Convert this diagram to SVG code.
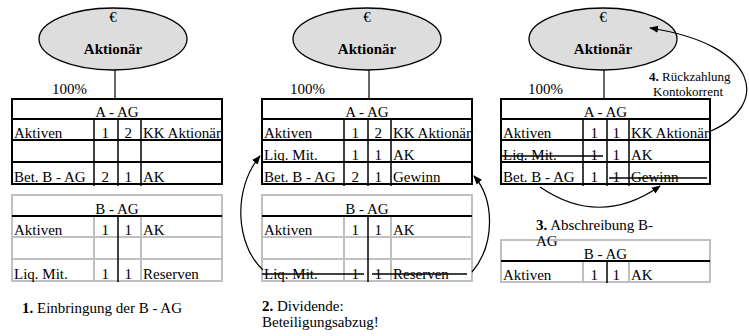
<svg xmlns="http://www.w3.org/2000/svg" width="749" height="336" viewBox="0 0 749 336">
<defs>
<marker id="ah" viewBox="0 0 10 10" refX="9" refY="5" markerWidth="9" markerHeight="9" markerUnits="userSpaceOnUse" orient="auto">
<path d="M0,1 L10,5 L0,9 Z" fill="#000"/>
</marker>
</defs>
<style>
text{font-family:'Liberation Serif','DejaVu Serif',serif;font-size:15px;fill:#000}
.c{text-anchor:middle}
.e{text-anchor:end}
.b{font-weight:bold}
.sm{font-size:13px}
.ell{fill:#dddddd;stroke:#000;stroke-width:1.3}
.blk{stroke:#000;stroke-width:2;fill:none}
.thin{stroke:#000;stroke-width:1.5;fill:none}
.gry{stroke:#c0c0c0;stroke-width:2;fill:none}
.st{stroke:#000;stroke-width:1.3;fill:none}
.arr{stroke:#000;stroke-width:1.2;fill:none;marker-end:url(#ah)}
</style>
<g font-family="Liberation Serif, DejaVu Serif, serif" font-size="15">
<!-- Panel 1 -->
<g id="aktionaer1">
<ellipse class="ell" cx="113" cy="39" rx="74" ry="31"/>
<text class="c" x="113" y="22">€</text>
<text class="c b" x="113" y="54">Aktionär</text>
</g>
<g id="aag1">
<rect class="blk" x="12" y="99" width="210" height="85"/>
<line class="blk" x1="12" y1="119" x2="222" y2="119"/>
<line class="blk" x1="12" y1="140" x2="222" y2="140"/>
<line class="blk" x1="12" y1="162" x2="222" y2="162"/>
<line class="thin" x1="94" y1="119" x2="94" y2="186"/>
<line class="thin" x1="118" y1="119" x2="118" y2="186"/>
<line class="thin" x1="141" y1="119" x2="141" y2="186"/>
<text class="c" x="117" y="117">A - AG</text>
<text x="14" y="138">Aktiven</text><text class="e" x="109" y="138">1</text><text class="e" x="132" y="138">2</text><text x="143" y="138">KK Aktionär</text>
<text x="14" y="182">Bet. B - AG</text><text class="e" x="109" y="182">2</text><text class="e" x="132" y="182">1</text><text x="143" y="182">AK</text>
</g>
<g id="bag1">
<rect class="gry" x="12" y="195" width="210" height="86"/>
<line class="gry" x1="12" y1="237" x2="222" y2="237"/>
<line class="gry" x1="12" y1="259" x2="222" y2="259"/>
<line class="gry" x1="94" y1="216" x2="94" y2="281"/>
<line class="gry" x1="141" y1="216" x2="141" y2="281"/>
<line class="blk" x1="12" y1="216" x2="222" y2="216"/>
<line class="thin" x1="118" y1="216" x2="118" y2="282"/>
<text class="c" x="117" y="214">B - AG</text>
<text x="14" y="235">Aktiven</text><text class="e" x="109" y="235">1</text><text class="e" x="132" y="235">1</text><text x="143" y="235">AK</text>
<text x="14" y="279">Liq. Mit.</text><text class="e" x="109" y="279">1</text><text class="e" x="132" y="279">1</text><text x="143" y="279">Reserven</text>
</g>
<text x="52" y="94">100%</text>
<text x="22" y="313"><tspan class="b">1.</tspan> Einbringung der B - AG</text>

<!-- Panel 2 -->
<g id="aktionaer2">
<ellipse class="ell" cx="367" cy="39" rx="74" ry="31"/>
<text class="c" x="367" y="22">€</text>
<text class="c b" x="367" y="54">Aktionär</text>
</g>
<g id="aag2">
<rect class="blk" x="262" y="99" width="210" height="85"/>
<line class="blk" x1="262" y1="119" x2="472" y2="119"/>
<line class="blk" x1="262" y1="140" x2="472" y2="140"/>
<line class="blk" x1="262" y1="162" x2="472" y2="162"/>
<line class="thin" x1="344" y1="119" x2="344" y2="186"/>
<line class="thin" x1="368" y1="119" x2="368" y2="186"/>
<line class="thin" x1="391" y1="119" x2="391" y2="186"/>
<text class="c" x="367" y="117">A - AG</text>
<text x="264" y="138">Aktiven</text><text class="e" x="359" y="138">1</text><text class="e" x="382" y="138">2</text><text x="393" y="138">KK Aktionär</text>
<text x="264" y="160">Liq. Mit.</text><text class="e" x="359" y="160">1</text><text class="e" x="382" y="160">1</text><text x="393" y="160">AK</text>
<text x="264" y="182">Bet. B - AG</text><text class="e" x="359" y="182">2</text><text class="e" x="382" y="182">1</text><text x="393" y="182">Gewinn</text>
</g>
<g id="bag2">
<rect class="gry" x="262" y="195" width="210" height="86"/>
<line class="gry" x1="262" y1="237" x2="472" y2="237"/>
<line class="gry" x1="262" y1="259" x2="472" y2="259"/>
<line class="gry" x1="344" y1="216" x2="344" y2="281"/>
<line class="gry" x1="391" y1="216" x2="391" y2="281"/>
<line class="blk" x1="262" y1="216" x2="472" y2="216"/>
<line class="thin" x1="368" y1="216" x2="368" y2="282"/>
<text class="c" x="367" y="214">B - AG</text>
<text x="264" y="235">Aktiven</text><text class="e" x="359" y="235">1</text><text class="e" x="382" y="235">1</text><text x="393" y="235">AK</text>
<text x="264" y="279">Liq. Mit.</text><text class="e" x="359" y="279">1</text><text class="e" x="382" y="279">1</text><text x="393" y="279">Reserven</text>
<line class="st" x1="262" y1="274" x2="364" y2="274"/>
<line class="st" x1="372" y1="274" x2="467" y2="274"/>
</g>
<text x="290" y="94">100%</text>
<text x="262" y="311"><tspan class="b">2.</tspan> Dividende:</text>
<text x="262" y="327">Beteiligungsabzug!</text>

<!-- Panel 3 -->
<g id="aktionaer3">
<ellipse class="ell" cx="603" cy="39" rx="74" ry="31"/>
<text class="c" x="603" y="22">€</text>
<text class="c b" x="603" y="54">Aktionär</text>
</g>
<g id="aag3">
<rect class="blk" x="501" y="99" width="209" height="85"/>
<line class="blk" x1="501" y1="119" x2="710" y2="119"/>
<line class="blk" x1="501" y1="140" x2="710" y2="140"/>
<line class="blk" x1="501" y1="162" x2="710" y2="162"/>
<line class="thin" x1="583" y1="119" x2="583" y2="186"/>
<line class="thin" x1="607" y1="119" x2="607" y2="186"/>
<line class="thin" x1="629" y1="119" x2="629" y2="186"/>
<text class="c" x="605.5" y="117">A - AG</text>
<text x="503" y="138">Aktiven</text><text class="e" x="598" y="138">1</text><text class="e" x="620" y="138">1</text><text x="631" y="138">KK Aktionär</text>
<text x="503" y="160">Liq. Mit.</text><text class="e" x="598" y="160">1</text><text class="e" x="620" y="160">1</text><text x="631" y="160">AK</text>
<text x="503" y="182">Bet. B - AG</text><text class="e" x="598" y="182">1</text><text class="e" x="620" y="182">1</text><text x="631" y="182">Gewinn</text>
<line class="st" x1="502" y1="156" x2="603" y2="156"/>
<line class="st" x1="609" y1="178" x2="707" y2="178"/>
</g>
<g id="bag3">
<rect class="gry" x="501" y="240" width="209" height="42"/>
<line class="gry" x1="583" y1="261" x2="583" y2="282"/>
<line class="gry" x1="629" y1="261" x2="629" y2="282"/>
<line class="blk" x1="501" y1="261" x2="710" y2="261"/>
<line class="thin" x1="607" y1="261" x2="607" y2="283"/>
<text class="c" x="605.5" y="259">B - AG</text>
<text x="503" y="280">Aktiven</text><text class="e" x="598" y="280">1</text><text class="e" x="620" y="280">1</text><text x="631" y="280">AK</text>
</g>
<text x="528" y="94">100%</text>
<text x="536" y="230"><tspan class="b">3.</tspan> Abschreibung B-</text>
<text x="536" y="246">AG</text>
<text class="sm" x="649" y="81"><tspan class="b">4.</tspan> Rückzahlung</text>
<text class="sm" x="653" y="96">Kontokorrent</text>

<!-- Connectors -->
<g id="connectors">
<line class="thin" x1="115" y1="70" x2="115" y2="99" style="stroke-width:1.2"/>
<line class="thin" x1="369" y1="70" x2="369" y2="99" style="stroke-width:1.2"/>
<line class="thin" x1="604" y1="70" x2="604" y2="99" style="stroke-width:1.2"/>
<path class="arr" d="M263,270 C236,245 232,190 260,156"/>
<path class="arr" d="M472,272 C495,245 495,200 474,176"/>
<path class="arr" d="M540,187 Q600,228 660,186"/>
<path class="arr" d="M711,131 C770,105 760,45 650,28"/>
</g>
</g>
</svg>
